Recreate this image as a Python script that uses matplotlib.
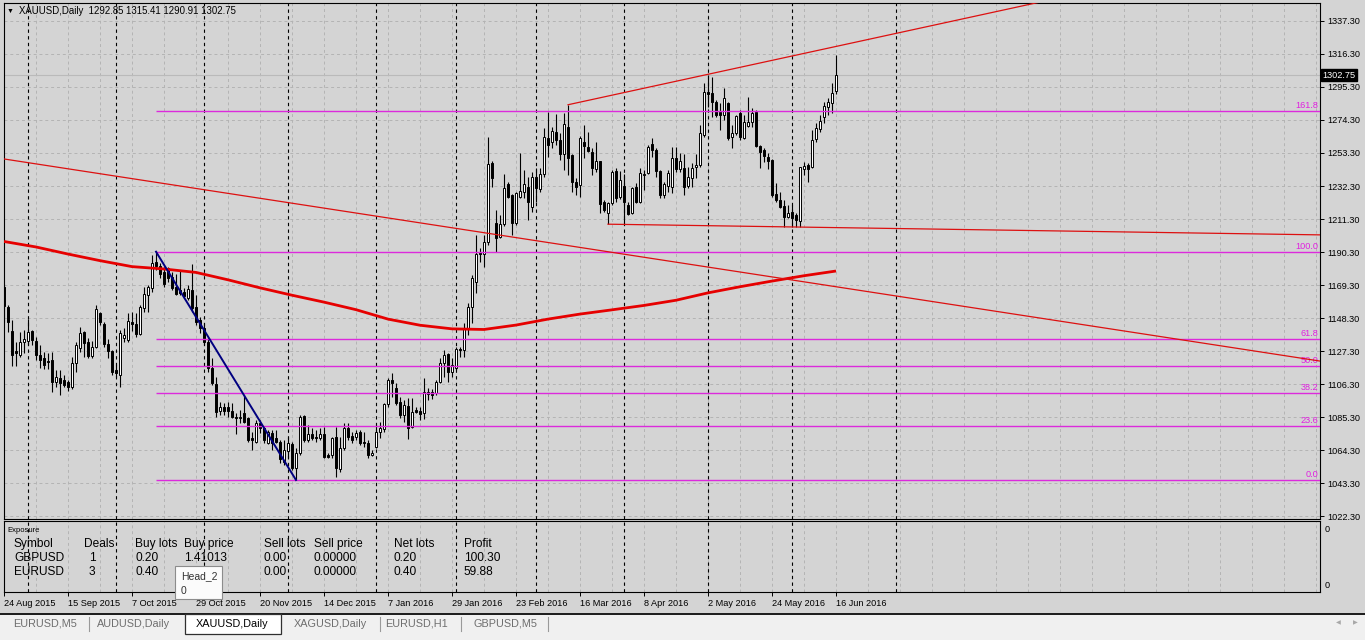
import numpy as np
import matplotlib
matplotlib.use('Agg')
import matplotlib.pyplot as plt
from matplotlib.patches import Rectangle
from matplotlib.lines import Line2D

plt.rcParams['font.family'] = ['Liberation Sans', 'DejaVu Sans']

# ---- XAUUSD daily candles, 24 Aug 2015 .. 16 Jun 2016 ----
opens = [1168, 1155.5, 1140, 1127, 1125, 1133, 1133.7, 1140, 1133.7, 1124.7,
         1122.6, 1121, 1121.6, 1107.4, 1110.3, 1108.8, 1107.8, 1104.6, 1119.5, 1129,
         1139.2, 1133.2, 1124.1, 1129.6, 1151.3, 1144.2, 1131.5, 1127.3, 1115.2, 1112,
         1135.4, 1134.3, 1145.5, 1144.3, 1138, 1154.5, 1163, 1167.2, 1183.7, 1181.6,
         1177.4, 1179.9, 1174.6, 1168.2, 1166.1, 1164.6, 1161.3, 1166.1, 1155.5, 1147,
         1141.7, 1133.3, 1116.3, 1106, 1089.3, 1091.9, 1091.4, 1089.1, 1085.5, 1084.4,
         1087.6, 1084.4, 1071.7, 1069.6, 1081.2, 1078, 1068.9, 1075.3, 1071.7, 1069.6,
         1056.9, 1063.8, 1068.1, 1052.6, 1062.6, 1085.9, 1070.6, 1074.5, 1072.8, 1071.7,
         1074.5, 1061.1, 1061.1, 1072.8, 1052, 1065.4, 1078, 1073.2, 1072.8, 1075.9,
         1069.6, 1068.5, 1061.1, 1065.9, 1075.9, 1077.4, 1093.5, 1108.8, 1103.5, 1095,
         1086.6, 1092.3, 1078.8, 1089.7, 1089.3, 1088, 1101.5, 1101, 1100.4, 1107.8,
         1119.5, 1125.2, 1114.1, 1116.7, 1128.6, 1128, 1141.7, 1155.5, 1171.4, 1190.5,
         1188.8, 1196.5, 1246.7, 1208.5, 1200.1, 1207.9, 1233.4, 1226.6, 1208.5, 1225.5,
         1228.7, 1231.9, 1219.1, 1238.2, 1230.4, 1239.7, 1263.1, 1260.5, 1266.4, 1261.6,
         1252.4, 1270, 1252, 1234.6, 1232.9, 1260.5, 1257.3, 1254.1, 1243.1, 1248.5,
         1221.9, 1214.9, 1221.3, 1241.8, 1225.5, 1232, 1220.2, 1214.9, 1231.9, 1222.3,
         1239, 1240.4, 1258.8, 1255.2, 1242, 1226.6, 1232.3, 1231.9, 1249.9, 1242.9,
         1243.5, 1232.3, 1237.2, 1244.2, 1245.6, 1264.7, 1292.3, 1291.7, 1285.9, 1279.6,
         1277.5, 1285.3, 1263.3, 1265.8, 1278.5, 1262.6, 1270.5, 1273.2, 1279.6, 1257.7,
         1255.2, 1251, 1248.8, 1227.2, 1223.4, 1219.6, 1212.8, 1216, 1213.8, 1210.2,
         1242.9, 1245.6, 1244.2, 1262, 1268.4, 1276.4, 1282.8, 1284.9, 1292.85]
highs = [1170, 1156.6, 1147, 1133, 1139.6, 1140.7, 1147.7, 1140.7, 1136.4, 1131,
         1126.5, 1125.8, 1126.5, 1115.2, 1115, 1112, 1108.8, 1123.7, 1133.3, 1142.8,
         1140, 1135.4, 1133.9, 1156.6, 1152.3, 1145.5, 1134.7, 1128, 1118.4, 1140.7,
         1141.7, 1151.3, 1152.3, 1151.3, 1156.6, 1168.2, 1169.3, 1188.4, 1191, 1183,
         1181, 1181, 1177.8, 1176.1, 1178.8, 1167.2, 1169.3, 1182.5, 1163, 1149.1,
         1144.9, 1135.4, 1122.6, 1110.9, 1095, 1094.4, 1095, 1094, 1087.6, 1089.7,
         1099.3, 1085.5, 1076, 1083.4, 1083.4, 1079.1, 1077, 1077, 1077, 1070.6,
         1070.6, 1072.8, 1069.6, 1065.4, 1086.6, 1086.6, 1080.2, 1078, 1077, 1078,
         1079.1, 1062.2, 1072.8, 1079.1, 1072.8, 1081.7, 1081.2, 1076, 1077, 1077,
         1075.9, 1070.6, 1064.3, 1080.2, 1082.3, 1094, 1109.9, 1113.5, 1106.7, 1098.2,
         1096.1, 1097.2, 1097.2, 1091.9, 1091.9, 1110, 1103.5, 1103, 1108.8, 1122.6,
         1127.9, 1125.8, 1122.6, 1130, 1130, 1144.9, 1157.6, 1175.7, 1201.1, 1192.6,
         1201.1, 1263.7, 1248.2, 1217, 1213.8, 1239.7, 1234.6, 1227, 1228.7, 1253,
         1242.5, 1238.2, 1241.4, 1243.5, 1243.5, 1269, 1279.6, 1270, 1277.9, 1265.8,
         1278.5, 1283.8, 1252.4, 1237.6, 1264.3, 1271.1, 1266.9, 1256.7, 1260.5, 1248.5,
         1223.4, 1221.9, 1242.5, 1243.9, 1242, 1240, 1222.3, 1231.9, 1234, 1243.5,
         1242.5, 1258.4, 1262.6, 1256.3, 1242.5, 1235.1, 1242.5, 1257.3, 1257.3, 1253,
         1252.7, 1244.6, 1246.7, 1252.7, 1271.1, 1297.6, 1302.9, 1301.9, 1287, 1284.9,
         1294.4, 1286, 1271.1, 1277.5, 1280.6, 1277.5, 1289.1, 1281.7, 1280.6, 1258.4,
         1256.3, 1253, 1249.3, 1234, 1228.7, 1223.4, 1220.2, 1220.2, 1214.9, 1244.6,
         1247.8, 1246.7, 1267.9, 1272.2, 1277.5, 1286, 1288.1, 1297.6, 1315.41]
lows = [1146, 1139.6, 1118, 1118, 1123.7, 1126, 1131, 1131, 1121.6, 1116.3,
        1115.9, 1116, 1101.4, 1104.6, 1099.3, 1104.6, 1101.8, 1103.1, 1114.1, 1126.9,
        1123.7, 1122.6, 1122.6, 1129, 1143.8, 1130, 1122.6, 1112, 1111, 1104.6,
        1133.3, 1133.3, 1140, 1136.4, 1137.5, 1152.3, 1152.3, 1165, 1178.8, 1173.5,
        1168.2, 1171.4, 1166.1, 1162.9, 1162.9, 1160.8, 1159.8, 1152.3, 1143.9, 1138.5,
        1131.1, 1114.1, 1105.7, 1085.5, 1086.6, 1086.6, 1085.5, 1084.4, 1074.5, 1081.2,
        1081.2, 1069.6, 1064.3, 1069, 1074.9, 1068.5, 1068, 1064.3, 1068.5, 1055.8,
        1054.7, 1059, 1051.6, 1045.2, 1061.1, 1069.6, 1069.6, 1070.6, 1069.6, 1070.6,
        1059, 1059, 1059, 1047.3, 1050.5, 1064.3, 1070.6, 1068.5, 1070.6, 1067.5,
        1066.4, 1059, 1060.5, 1065.4, 1071.7, 1075.9, 1091.9, 1098.2, 1092.9, 1084.4,
        1082.3, 1071.1, 1078, 1087.6, 1083.4, 1084, 1096, 1097, 1099.3, 1106.7,
        1111, 1107.8, 1111, 1115.2, 1123.7, 1123.7, 1137.5, 1144.9, 1164, 1184.2,
        1181, 1194.8, 1231.9, 1190.5, 1199, 1207, 1224.4, 1201.1, 1207.5, 1224.4,
        1224.4, 1210.7, 1216, 1222.3, 1228.7, 1238.2, 1251, 1256.3, 1258.4, 1248.8,
        1242.5, 1239.3, 1228.7, 1226.6, 1225.5, 1249.9, 1253.7, 1239.3, 1241.4, 1215,
        1215.9, 1207.9, 1220.2, 1222.3, 1224, 1208, 1213.8, 1214.5, 1221.3, 1221.3,
        1229.7, 1239.9, 1251, 1238.2, 1224.4, 1224.4, 1228.7, 1227.6, 1241.4, 1241.4,
        1226.6, 1230.8, 1231.9, 1237.2, 1244.6, 1263.7, 1282.8, 1276.4, 1276.4, 1268,
        1274.3, 1261.6, 1256.3, 1264.7, 1261.6, 1262, 1269.6, 1270, 1256.9, 1243.5,
        1247.8, 1242.9, 1225.5, 1222.3, 1218.1, 1206.4, 1211.7, 1206.4, 1206.4, 1206.4,
        1239.3, 1235.1, 1243.5, 1260.5, 1266.9, 1272.2, 1277.5, 1278.5, 1290.91]
closes = [1156, 1145.5, 1125, 1126, 1133, 1134.7, 1139.6, 1134.3, 1124.7, 1121.4,
          1118.4, 1120.6, 1107.8, 1110.9, 1106.7, 1105.7, 1104.6, 1119.5, 1131.1, 1138.5,
          1132.2, 1124.3, 1129.6, 1154, 1145.5, 1131.5, 1127, 1114.2, 1113.1, 1138.5,
          1137.5, 1146.4, 1144.6, 1138, 1155.5, 1163.4, 1168.2, 1183.1, 1181.6, 1176.1,
          1169.7, 1173.5, 1167.2, 1163.4, 1164, 1162.5, 1166.8, 1154.5, 1146, 1141.7,
          1133.3, 1116.3, 1106.7, 1088.7, 1091.9, 1089.3, 1089.1, 1085.5, 1084.4, 1085.5,
          1082.3, 1070.6, 1070.6, 1081.7, 1078, 1070.6, 1076, 1068.5, 1069.6, 1058.3,
          1064.3, 1068.9, 1052.6, 1062.6, 1085.5, 1070.6, 1074.5, 1071.7, 1071.7, 1074.5,
          1060.1, 1060.1, 1071.7, 1052.6, 1065.4, 1078, 1072.8, 1070.6, 1075.3, 1068.5,
          1068.5, 1061.1, 1062.6, 1075.9, 1078, 1093.5, 1108.8, 1106.7, 1094, 1086.6,
          1092.9, 1078, 1088.7, 1088.7, 1087.2, 1101.5, 1099.7, 1099.5, 1107.8, 1119.5,
          1124.7, 1114.1, 1118.4, 1128.6, 1128, 1141.7, 1155.5, 1174, 1188.8, 1188.8,
          1196.9, 1246.1, 1237.2, 1199.4, 1207.9, 1230.8, 1225.5, 1208.5, 1227.6, 1229.1,
          1233.4, 1222.3, 1238.2, 1230.8, 1239.7, 1263.7, 1258.4, 1267.3, 1261.6, 1252.4,
          1271.5, 1249.9, 1234.6, 1231.9, 1262.6, 1258, 1254.6, 1243.5, 1248.2, 1221,
          1217, 1221.3, 1241.4, 1224.4, 1236, 1222.3, 1214.5, 1230.8, 1222.3, 1240.4,
          1240, 1256.9, 1255.2, 1242, 1226.6, 1233.6, 1240.4, 1249.9, 1242.9, 1248.2,
          1231.9, 1238.2, 1243.5, 1245.6, 1266.2, 1292.3, 1290.8, 1285.9, 1277.5, 1277.5,
          1288.1, 1262.6, 1265.8, 1276.8, 1263.3, 1273.2, 1273.2, 1279, 1257.7, 1254.1,
          1251.4, 1248.4, 1226.6, 1223.4, 1218.7, 1212.4, 1214.9, 1211.7, 1210.7, 1244.2,
          1245, 1242.9, 1261.6, 1269, 1273.9, 1283.2, 1285.9, 1291.7, 1302.75]

# red moving average, sampled every 8 bars
ma_bars = [0, 8, 16, 24, 32, 40, 48, 56, 64, 72, 80, 88, 96, 104, 112, 120, 128, 136,
           144, 152, 160, 168, 176, 184, 192, 200, 208]
ma_vals = [1197, 1193.5, 1189, 1184.8, 1181, 1179.5, 1177.3, 1172.6, 1167.5, 1162.8,
           1158.4, 1153.6, 1147.6, 1143.7, 1141.4, 1141, 1143.8, 1147.6, 1150.8, 1153.5,
           1156.3, 1159.6, 1164.3, 1168.2, 1171.8, 1175.2, 1178.2]

# trend lines (bar, price) end points
down_line = ([0, 329], [1249.5, 1120.9])
up_line = ([141, 260], [1284.0, 1349.9])
flat_line = ([151, 329], [1208.0, 1201.2])
blue_line = ([38, 73], [1190.5, 1045.2])

fib_levels = [1280.1, 1190.3, 1134.8, 1117.65, 1100.5, 1079.3, 1045.0]
fib_labels = ['161.8', '100.0', '61.8', '50.0', '38.2', '23.6', '0.0']
fib_start = 38

price_ticks = [1022.3, 1043.3, 1064.3, 1085.3, 1106.3, 1127.3, 1148.3, 1169.3, 1190.3,
               1211.3, 1232.3, 1253.3, 1274.3, 1295.3, 1316.3, 1337.3]
month_seps = [6, 28, 50, 71, 93, 113, 133, 155, 176, 197, 223]
date_bars = [0, 16, 32, 48, 64, 80, 96, 112, 128, 144, 160, 176, 192, 208]
date_labels = ['24 Aug 2015', '15 Sep 2015', '7 Oct 2015', '29 Oct 2015', '20 Nov 2015',
               '14 Dec 2015', '7 Jan 2016', '29 Jan 2016', '23 Feb 2016', '16 Mar 2016',
               '8 Apr 2016', '2 May 2016', '24 May 2016', '16 Jun 2016']
last_price = 1302.75

expo_cols = ['Symbol', 'Deals', 'Buy lots', 'Buy price', 'Sell lots', 'Sell price', 'Net lots', 'Profit']
expo_rows = [['GBPUSD', '1', '0.20', '1.41013', '0.00', '0.00000', '0.20', '100.30'],
             ['EURUSD', '3', '0.40', '', '0.00', '0.00000', '0.40', '59.88']]
tabs = ['EURUSD,M5', 'AUDUSD,Daily', 'XAUUSD,Daily', 'XAGUSD,Daily', 'EURUSD,H1', 'GBPUSD,M5']

W, H = 1365, 640
BG = '#d4d4d4'
GRID = '#b3b3b3'


def fx(x):
    return x / W


def fy(y):
    return 1 - y / H


fig = plt.figure(figsize=(W / 100, H / 100), dpi=100, facecolor=BG)

# main chart window
ax = fig.add_axes([fx(4), fy(519), fx(1320) - fx(4), fy(3) - fy(519)], facecolor=BG)
ax.set_xlim(0, 329)
ax.set_ylim(1020.4, 1348.75)
ax.set_xticks(np.arange(0, 330, 8))
ax.tick_params(axis='x', length=0, labelbottom=False)
ax.set_yticks(price_ticks)
ax.set_yticklabels(['%.2f' % v for v in price_ticks])
ax.yaxis.tick_right()
ax.tick_params(axis='y', direction='out', length=3, width=0.7, labelsize=6.6, pad=2)
ax.grid(True, color=GRID, linestyle=(0, (3, 3)), lw=0.7)
ax.set_axisbelow(True)
for s in ax.spines.values():
    s.set_color('black')
    s.set_linewidth(0.8)

ax.axhline(last_price, color='#bababa', lw=0.8, zorder=1)
for m in month_seps:
    ax.axvline(m, color='black', ls=(0, (3, 3)), lw=0.8, zorder=2)

# candles
o = np.array(opens)
h = np.array(highs)
l = np.array(lows)
c = np.array(closes)
idx = np.arange(len(c))
up = c >= o
ax.vlines(idx, l, h, color='black', lw=0.8, zorder=3)
body = np.maximum(np.abs(c - o), 0.35)
ax.bar(idx, body, bottom=np.minimum(o, c), width=0.55,
       color=np.where(up, 'white', 'black'), edgecolor='black', lw=0.7, zorder=4)

# fibonacci levels
for lvl, lab in zip(fib_levels, fib_labels):
    ax.hlines(lvl, fib_start, 329, color='#dc2adc', lw=1.0, zorder=5)
    ax.text(328.6, lvl + 0.7, lab, ha='right', va='bottom', color='#e020e0',
            fontsize=6.6, zorder=6)

# moving average and trend lines
ax.plot(ma_bars, ma_vals, color='#e60000', lw=2.0, zorder=6, solid_capstyle='butt')
for xs, ys in (down_line, up_line, flat_line):
    ax.plot(xs, ys, color='#dd1010', lw=0.9, zorder=6)
ax.plot(blue_line[0], blue_line[1], color='#000080', lw=1.4, zorder=7)

ax.text(1.002, last_price, '%.2f' % last_price, transform=ax.get_yaxis_transform(),
        ha='left', va='center', color='white', fontsize=6.6, zorder=10, clip_on=False,
        bbox=dict(boxstyle='square,pad=0.15', fc='black', ec='black'))

fig.text(fx(10), fy(11.5), '\u25bc', fontsize=5, va='center', ha='center')
fig.text(fx(19), fy(11.5), 'XAUUSD,Daily  1292.85 1315.41 1290.91 1302.75',
         fontsize=6.9, va='center', ha='left')

# exposure sub-window
axp = fig.add_axes([fx(4), fy(592), fx(1320) - fx(4), fy(521) - fy(592)], facecolor=BG)
axp.set_xlim(0, 329)
axp.set_ylim(0, 1)
axp.set_xticks(date_bars)
axp.set_xticklabels(date_labels, ha='left')
axp.set_xticks(np.arange(0, 330, 8), minor=True)
axp.tick_params(axis='x', which='minor', length=0)
axp.tick_params(axis='x', which='major', direction='out', length=3, width=0.7,
                labelsize=6.6, pad=2)
axp.yaxis.tick_right()
axp.set_yticks([0.1, 0.9])
axp.set_yticklabels(['0', '0'])
axp.tick_params(axis='y', length=0, labelsize=6.6, pad=3)
axp.grid(True, axis='x', which='both', color=GRID, linestyle=(0, (3, 3)), lw=0.7)
axp.set_axisbelow(True)
for s in axp.spines.values():
    s.set_color('black')
    s.set_linewidth(0.8)
for m in month_seps:
    axp.axvline(m, color='black', ls=(0, (3, 3)), lw=0.8, zorder=2)

fig.text(fx(7), fy(530), 'Exposure', fontsize=5.5, va='center')
col_x = [14, 84, 135, 184, 264, 314, 394, 464]
for cx, name in zip(col_x, expo_cols):
    fig.text(fx(cx), fy(544), name, fontsize=8.6, va='center', zorder=5)
for ry, row in zip([558, 572], expo_rows):
    for cx, val in zip(col_x, row):
        fig.text(fx(cx + (5 if val in ('1', '3') else 0)), fy(ry), val, fontsize=8.6,
                 va='center', zorder=5)

# tooltip
fig.patches.append(Rectangle((fx(175), fy(599)), fx(222) - fx(175), fy(566) - fy(599),
                             transform=fig.transFigure, fc='#fbfbfb', ec='#8c8c8c',
                             lw=0.8, zorder=20))
fig.text(fx(181), fy(576), 'Head_2', fontsize=7.5, va='center', color='#333333', zorder=21)
fig.text(fx(181), fy(591), '0', fontsize=7.5, va='center', color='#333333', zorder=21)

# tab bar
fig.patches.append(Rectangle((0, 0), 1, fy(614), transform=fig.transFigure,
                             fc='#f0f0f0', ec='none', zorder=15))
fig.lines.append(Line2D([0, 1], [fy(614), fy(614)], transform=fig.transFigure,
                        color='#1a1a1a', lw=1.4, zorder=16))
fig.patches.append(Rectangle((fx(185), fy(634)), fx(281) - fx(185), fy(614) - fy(634),
                             transform=fig.transFigure, fc='white', ec='#303030',
                             lw=0.9, zorder=17))
tab_x = [45, 134, 232, 330, 416, 505]
for i, (tx, name) in enumerate(zip(tab_x, tabs)):
    fig.text(fx(tx), fy(624), name, fontsize=7.8, ha='center', va='center',
             color='black' if i == 2 else '#6e6e6e', zorder=18)
for sx in [89, 380, 461, 548]:
    fig.lines.append(Line2D([fx(sx), fx(sx)], [fy(617), fy(631)], transform=fig.transFigure,
                            color='#9a9a9a', lw=0.8, zorder=18))
fig.text(fx(1338), fy(623), '\u25c0', fontsize=4.5, ha='center', va='center',
         color='#a8a8a8', zorder=18)
fig.text(fx(1355), fy(623), '\u25b6', fontsize=4.5, ha='center', va='center',
         color='#a8a8a8', zorder=18)

fig.savefig('out.png', dpi=100, facecolor=BG)
